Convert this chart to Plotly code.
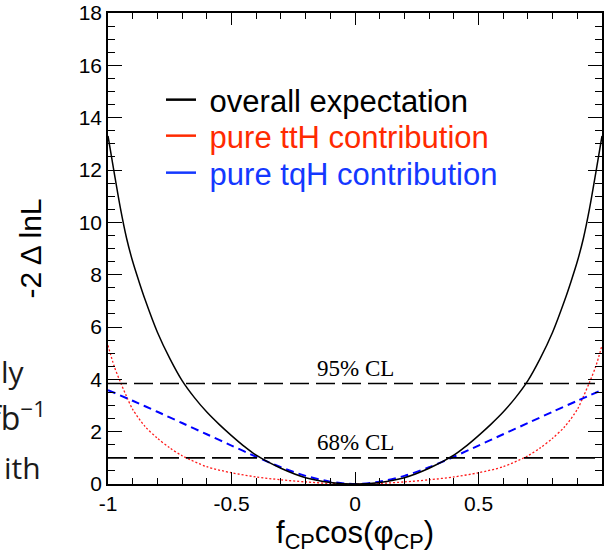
import plotly.graph_objects as go

# ---- data ----
x_black = [-1.0, -0.975, -0.95, -0.925, -0.9, -0.875, -0.85, -0.8, -0.75, -0.7, -0.65, -0.6, -0.55, -0.5, -0.45,
           -0.4, -0.3, -0.2, -0.1, 0.0, 0.1, 0.2, 0.3, 0.4,
           0.45, 0.5, 0.55, 0.6, 0.65, 0.7, 0.75, 0.8, 0.85, 0.875, 0.9, 0.925, 0.95, 0.975, 1.0]
overall = [13.3, 11.9, 10.55, 9.4, 8.5, 7.75, 7.05, 5.8, 4.8, 3.95, 3.3, 2.75, 2.28, 1.85, 1.45,
           1.1, 0.6, 0.24, 0.06, 0.0, 0.06, 0.24, 0.6, 1.1,
           1.45, 1.85, 2.28, 2.75, 3.3, 3.95, 4.8, 5.8, 7.05, 7.75, 8.5, 9.4, 10.55, 11.9, 13.3]

x_red = [-1.0, -0.975, -0.95, -0.925, -0.9, -0.85, -0.8, -0.75, -0.7, -0.6, -0.5, -0.4, -0.3, -0.2, -0.1,
         0.0, 0.1, 0.2, 0.3, 0.4, 0.5, 0.6, 0.7, 0.75, 0.8, 0.85, 0.9, 0.925, 0.95, 0.975, 1.0]
tth = [5.3, 4.5, 3.9, 3.35, 2.85, 2.2, 1.75, 1.38, 1.08, 0.66, 0.43, 0.27, 0.16, 0.08, 0.02,
       0.0, 0.02, 0.08, 0.16, 0.27, 0.43, 0.66, 1.08, 1.38, 1.75, 2.2, 2.85, 3.35, 3.9, 4.5, 5.3]

x_blue = [-1.0, -0.9, -0.8, -0.7, -0.6, -0.5, -0.4, -0.3, -0.2, -0.1,
          0.0, 0.1, 0.2, 0.3, 0.4, 0.5, 0.6, 0.7, 0.8, 0.9, 1.0]
tqh = [3.59, 3.18, 2.76, 2.33, 1.9, 1.47, 1.04, 0.64, 0.31, 0.09,
       0.0, 0.09, 0.31, 0.64, 1.04, 1.47, 1.9, 2.33, 2.76, 3.18, 3.59]

cl_levels = [1.0, 3.84]
cl_labels = ["68% CL", "95% CL"]

x_tickvals = [-1, -0.5, 0, 0.5, 1]
x_ticktext = ["-1", "-0.5", "0", "0.5", "1"]
y_tickvals = [0, 2, 4, 6, 8, 10, 12, 14, 16, 18]
y_ticktext = [str(v) for v in y_tickvals]

legend_names = ["overall expectation", "pure ttH contribution", "pure tqH contribution"]
legend_colors = ["#000000", "#ff2a00", "#1438ff"]
legend_rows = [100, 136, 173]          # pixel rows of legend entries

side_texts = ["ly", "fb<sup>−1</sup>", "ith"]
side_text_y = [371, 416, 467]     # pixel rows of the cropped slide text
side_text_right = [27, 48, 43]    # pixel right edges
side_text_size = [30, 32, 30]

W, H = 606, 555
ML, MR, MT, MB = 108, 4, 13, 71
PW, PH = W - ML - MR, H - MT - MB

fig = go.Figure()

# curves
fig.add_trace(go.Scatter(x=x_red, y=tth, mode="lines",
                         line=dict(color="#ff1a1a", width=1.3, dash="2px,2px", shape="spline", smoothing=0.8),
                         showlegend=False, hoverinfo="skip"))
fig.add_trace(go.Scatter(x=x_blue, y=tqh, mode="lines",
                         line=dict(color="#0000ff", width=2, dash="8px,5px", shape="spline", smoothing=0.8),
                         showlegend=False, hoverinfo="skip"))
fig.add_trace(go.Scatter(x=x_black, y=overall, mode="lines",
                         line=dict(color="#000000", width=1.5, shape="spline", smoothing=0.8),
                         showlegend=False, hoverinfo="skip"))

# CL lines
for lvl, lab in zip(cl_levels, cl_labels):
    fig.add_trace(go.Scatter(x=[-1, 1], y=[lvl, lvl], mode="lines",
                             line=dict(color="#000000", width=1.6, dash="19px,7px"),
                             showlegend=False, hoverinfo="skip"))
    fig.add_annotation(x=0, y=lvl, xref="x", yref="y", text=lab, showarrow=False,
                       xanchor="center", yanchor="bottom", yshift=1,
                       font=dict(family="Liberation Serif", size=23, color="#000000"))

# legend entries (solid coloured lines, coloured text), one legend per row
legend_layout = {}
for i, (name, col, row) in enumerate(zip(legend_names, legend_colors, legend_rows)):
    key = "legend" if i == 0 else f"legend{i + 1}"
    fig.add_trace(go.Scatter(x=[None], y=[None], mode="lines", line=dict(color=col, width=2.5),
                             name=f'<span style="color:{col}"> {name}</span>', legend=key))
    legend_layout[key] = dict(x=(161 - ML) / PW, y=1 - (row - MT) / PH, xanchor="left", yanchor="middle",
                              bgcolor="rgba(0,0,0,0)", borderwidth=0,
                              font=dict(family="Liberation Sans", size=31, color="#000000"),
                              itemwidth=30)

# cropped slide text on the left
for txt, py, pr, fs in zip(side_texts, side_text_y, side_text_right, side_text_size):
    fig.add_annotation(x=(pr - ML) / PW, y=1 - (py - MT) / PH, xref="paper", yref="paper",
                       text=txt, showarrow=False, xanchor="right", yanchor="middle",
                       font=dict(family="Open Sans", size=fs, color="#1a1a1a"))

axis_common = dict(showline=True, linecolor="#000000", linewidth=1.5, mirror="ticks",
                   ticks="inside", tickcolor="#000000", tickwidth=1.2, showgrid=False,
                   zeroline=False, tickfont=dict(family="Liberation Sans", size=21, color="#000000"))

fig.update_xaxes(range=[-1, 1], tickvals=x_tickvals, ticktext=x_ticktext, ticklen=12,
                 minor=dict(ticks="inside", dtick=0.1, ticklen=6, tickcolor="#000000", tickwidth=1),
                 title=dict(text="f<sub>CP</sub>cos(φ<sub>CP</sub>)",
                            font=dict(family="Liberation Sans", size=31, color="#000000"), standoff=4),
                 **axis_common)
fig.update_yaxes(range=[0, 18], tickvals=y_tickvals, ticktext=y_ticktext, ticklen=14,
                 minor=dict(ticks="inside", dtick=0.5, ticklen=7, tickcolor="#000000", tickwidth=1),
                 title=dict(text="-2 Δ lnL", font=dict(family="Liberation Sans", size=30, color="#000000"),
                            standoff=28),
                 **axis_common)

fig.update_layout(
    width=W, height=H,
    margin=dict(l=ML, r=MR, t=MT, b=MB, autoexpand=False),
    paper_bgcolor="#ffffff", plot_bgcolor="#ffffff",
    showlegend=True,
    **legend_layout,
)

fig.write_html("out.html")
